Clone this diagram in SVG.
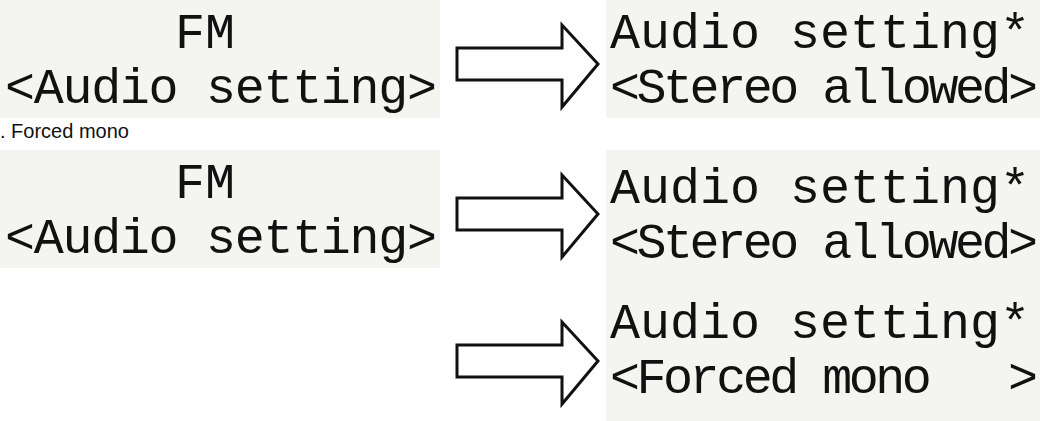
<svg xmlns="http://www.w3.org/2000/svg" width="1040" height="421" viewBox="0 0 1040 421">
<style>
.bg{fill:#f4f4f1}
.t{font-family:"Liberation Mono",monospace;font-size:50px;fill:#111;white-space:pre}
.c{font-family:"Liberation Sans",sans-serif;font-size:20px;fill:#111}
.a{fill:#fff;stroke:#111;stroke-width:3;stroke-linejoin:miter}
</style>
<rect width="1040" height="421" fill="#fff"/>
<g id="p1"><rect class="bg" x="0" y="0" width="440" height="118"/>
<text class="t" x="205" y="48" text-anchor="middle">FM</text>
<text class="t" x="5" y="103" textLength="432">&lt;Audio setting&gt;</text></g>
<g id="p2"><rect class="bg" x="606" y="0" width="434" height="118"/>
<text class="t" x="610" y="48" textLength="420">Audio setting*</text>
<text class="t" x="610" y="103" textLength="428">&lt;Stereo allowed&gt;</text></g>
<text class="c" x="0" y="138">. Forced mono</text>
<g id="p3"><rect class="bg" x="0" y="150" width="440" height="118"/>
<text class="t" x="205" y="198" text-anchor="middle">FM</text>
<text class="t" x="5" y="253" textLength="432">&lt;Audio setting&gt;</text></g>
<g id="p4"><rect class="bg" x="606" y="150" width="434" height="271"/>
<text class="t" x="610" y="203" textLength="420">Audio setting*</text>
<text class="t" x="610" y="258" textLength="428">&lt;Stereo allowed&gt;</text>
<text class="t" x="610" y="338" textLength="420">Audio setting*</text>
<text class="t" x="610" y="393" textLength="428" xml:space="preserve">&lt;Forced mono   &gt;</text></g>
<g id="connectors">
<path class="a" d="M457,48H562V25L598,64L562,107V80H457Z"/>
<path class="a" d="M457,198H562V175L598,214L562,257V230H457Z"/>
<path class="a" d="M457,345H562V322L598,361L562,404V377H457Z"/>
</g>
</svg>
